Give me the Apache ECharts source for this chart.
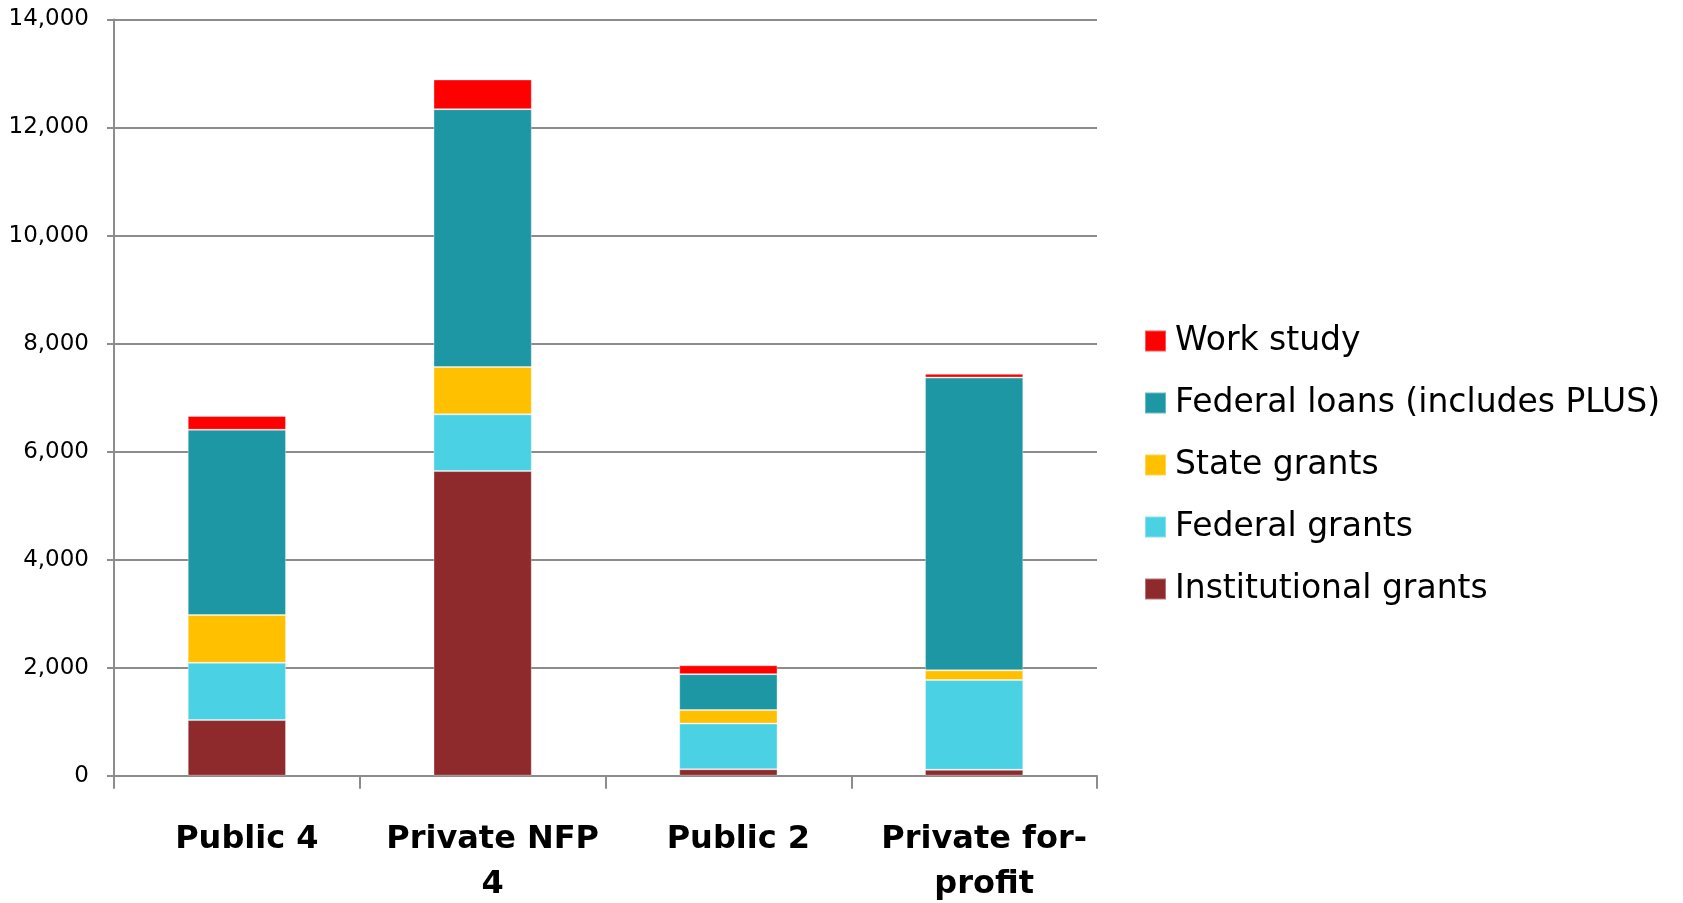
<!DOCTYPE html>
<html>
<head>
<meta charset="utf-8">
<script src="https://cdn.jsdelivr.net/npm/echarts@6/dist/echarts.min.js"></script>
<style>
  html, body { margin: 0; padding: 0; background: #fff; }
  #chart { width: 1683px; height: 903px; }
</style>
</head>
<body>
<div id="chart"></div>
<script>
const categories = ['Public 4', 'Private NFP\n4', 'Public 2', 'Private for-\nprofit'];
const institutionalGrants = [1030, 5640, 120, 110];
const federalGrants = [1060, 1050, 845, 1660];
const stateGrants = [885, 875, 250, 180];
const federalLoans = [3430, 4775, 665, 5420];
const workStudy = [255, 550, 165, 70];
const yTicks = { min: 0, max: 14000, interval: 2000 };

const seriesDefs = [
  { name: 'Institutional grants', data: institutionalGrants, color: '#8F2A2C' },
  { name: 'Federal grants', data: federalGrants, color: '#4AD1E3' },
  { name: 'State grants', data: stateGrants, color: '#FFC000' },
  { name: 'Federal loans (includes PLUS)', data: federalLoans, color: '#1D97A3' },
  { name: 'Work study', data: workStudy, color: '#FF0000' }
];

const chart = echarts.init(document.getElementById('chart'), null, { renderer: 'canvas' });
const axisGray = '#8c8c8c';
chart.setOption({
  animation: false,
  backgroundColor: '#ffffff',
  grid: { left: 114, right: 586, top: 19.5, bottom: 127.3, containLabel: false, outerBoundsMode: 'none' },
  legend: {
    orient: 'vertical',
    left: 1139,
    top: 316,
    itemWidth: 21,
    itemHeight: 21,
    itemGap: 22,
    icon: 'rect',
    data: ['Work study', 'Federal loans (includes PLUS)', 'State grants', 'Federal grants', 'Institutional grants'],
    textStyle: { fontFamily: 'DejaVu Sans', fontSize: 33, color: '#000', lineHeight: 40, padding: [0, 0, 0, 4] }
  },
  xAxis: {
    type: 'category',
    data: categories,
    axisLine: { show: true, lineStyle: { color: axisGray, width: 2 } },
    axisTick: { show: true, interval: 0, length: 13, lineStyle: { color: axisGray, width: 2 } },
    axisLabel: {
      interval: 0,
      margin: 41,
      fontFamily: 'DejaVu Sans',
      fontWeight: 'bold',
      fontSize: 32,
      lineHeight: 45,
      color: '#000',
      padding: [0, 0, 0, 20]
    }
  },
  yAxis: {
    type: 'value',
    min: yTicks.min,
    max: yTicks.max,
    interval: yTicks.interval,
    axisLine: { show: true, lineStyle: { color: axisGray, width: 2 } },
    axisTick: { show: true, length: 7, lineStyle: { color: axisGray, width: 2 } },
    splitLine: { show: true, lineStyle: { color: axisGray, width: 2 } },
    axisLabel: {
      margin: 25,
      fontFamily: 'DejaVu Sans',
      fontSize: 23,
      color: '#000',
      formatter: v => v.toLocaleString('en-US')
    }
  },
  series: seriesDefs.map(s => ({
    name: s.name,
    type: 'bar',
    stack: 'total',
    barWidth: '40%',
    data: s.data,
    itemStyle: { color: s.color, borderColor: 'rgba(255,255,255,0.35)', borderWidth: 1 }
  }))
});
</script>
</body>
</html>
